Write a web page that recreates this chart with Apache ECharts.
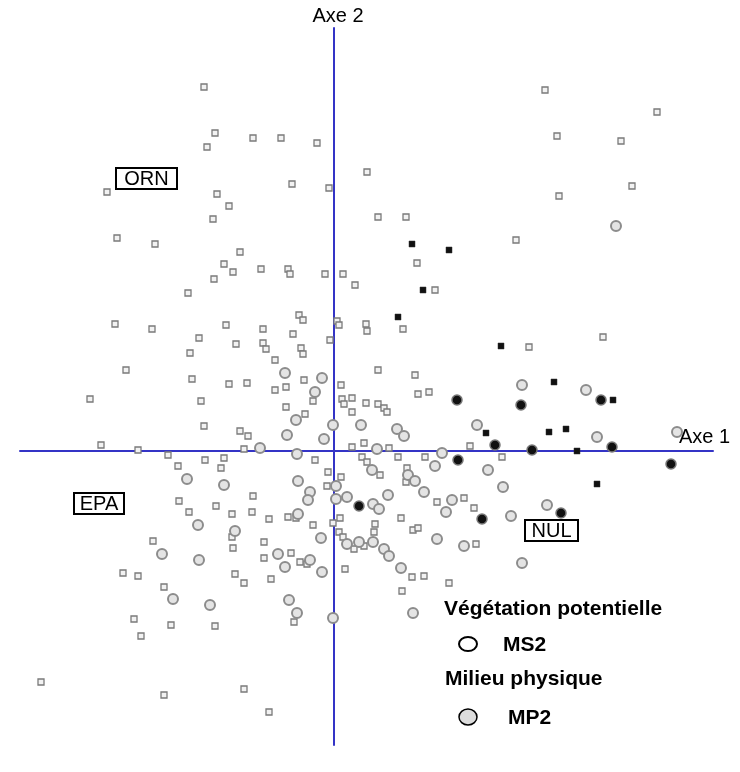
<!DOCTYPE html>
<html><head><meta charset="utf-8">
<script src="https://cdn.jsdelivr.net/npm/echarts@6/dist/echarts.min.js"></script>
<style>html,body{margin:0;padding:0;background:#fff}#c{width:740px;height:772px}</style>
</head><body><div id="c"></div>
<script>
// Factor scores (Axe 1, Axe 2), arbitrary units (x0.01)
const axis1Range = [-314, 379];
const axis2Range = [-294, 423];
// Open grey squares: individuals
const greySquares = [
[-130,364],[211,361],[323,339],[-119,318],[-127,304],[-81,313],[-53,313],[-17,308],[223,315],[287,310],
[-227,259],[-42,267],[-5,263],[33,279],[298,265],[-117,257],[-105,245],[-121,232],[44,234],[72,234],
[225,255],[-217,213],[-179,207],[182,211],[-94,199],[83,188],[-110,187],[-101,179],[-120,172],[-73,182],
[-46,182],[-44,177],[-9,177],[9,177],[-146,158],[-219,127],[-182,122],[-108,126],[-135,113],[-98,107],
[-144,98],[-208,81],[-142,72],[-105,67],[-87,68],[-244,52],[-133,50],[-130,25],[-94,20],[-86,15],
[-233,6],[-196,1],[-166,-4],[-90,2],[-129,-9],[-110,-7],[-156,-15],[-113,-17],[21,166],[101,161],
[-35,136],[-31,131],[3,130],[5,126],[32,127],[33,120],[69,122],[-71,122],[-41,117],[-4,111],
[-71,108],[-68,102],[-33,103],[-31,97],[-59,91],[44,81],[81,76],[-30,71],[7,66],[-59,61],
[-48,64],[-21,50],[84,57],[95,59],[8,52],[18,53],[32,48],[10,47],[44,47],[50,43],
[53,39],[-48,44],[-29,37],[18,39],[18,4],[30,8],[55,3],[136,5],[-19,-9],[28,-6],
[64,-6],[91,-6],[33,-11],[73,-17],[-6,-21],[269,114],[195,104],[168,-6],[-155,-50],[-118,-55],
[-145,-61],[-102,-63],[-102,-86],[-181,-90],[-101,-97],[-211,-122],[-196,-125],[-99,-123],[-90,-132],[-170,-136],
[-200,-168],[-163,-174],[-119,-175],[-193,-185],[7,-26],[46,-24],[72,-31],[-81,-45],[-7,-35],[103,-51],
[130,-47],[140,-57],[-82,-61],[-65,-68],[-46,-66],[-38,-67],[6,-67],[-1,-72],[67,-67],[41,-73],
[40,-81],[-21,-74],[79,-79],[84,-77],[5,-81],[9,-86],[-70,-91],[20,-98],[30,-95],[142,-93],
[-70,-107],[-43,-102],[-34,-111],[-27,-113],[11,-118],[78,-126],[90,-125],[-63,-128],[115,-132],[68,-140],
[-40,-171],[-293,-231],[-170,-244],[-90,-238],[-65,-261]
];
// Grey circles: MP2 (Milieu physique)
const greyCircles = [
[282,225],[-49,78],[-12,73],[-19,59],[-38,31],[-1,26],[27,26],[63,22],[70,15],[143,26],
[-47,16],[-10,12],[-74,3],[43,2],[-37,-3],[108,-2],[101,-15],[38,-19],[154,-19],[188,66],
[252,61],[263,14],[343,19],[-147,-28],[-110,-34],[-136,-74],[-99,-80],[-172,-103],[-135,-109],[-161,-148],
[-124,-154],[-36,-30],[74,-24],[81,-30],[90,-41],[-24,-41],[-26,-49],[2,-35],[2,-48],[13,-46],
[54,-44],[39,-53],[45,-58],[118,-49],[112,-61],[-36,-63],[-13,-87],[103,-88],[13,-93],[25,-91],
[39,-91],[50,-98],[55,-105],[130,-95],[-56,-103],[-49,-116],[-24,-109],[-12,-121],[67,-117],[-45,-149],
[-37,-162],[-1,-167],[79,-162],[169,-36],[213,-54],[177,-65],[188,-112]
];
// Black squares
const blackSquares = [
[78,207],[115,201],[89,161],[64,134],[167,105],[220,69],[279,51],[152,18],[215,19],[232,22],[243,0],[263,-33]
];
// Black circles: MS2 (Végétation potentielle)
const blackCircles = [
[123,51],[267,51],[187,46],[161,6],[124,-9],[198,1],[278,4],[337,-13],[25,-55],[148,-68],[227,-62]
];
const boxLabels = ['ORN','EPA','NUL'];
const axisNames = ['Axe 1','Axe 2'];
const legendTitles = ['Végétation potentielle','Milieu physique'];
const legendItems = ['MS2','MP2'];

const FONT = '"Liberation Sans", Arial, Helvetica, sans-serif';
const chart = echarts.init(document.getElementById('c'), null, {renderer:'canvas'});
const axisCommon = {
  type:'value', axisLine:{show:true,onZero:true,lineStyle:{color:'#3434c6',width:2}},
  axisTick:{show:false}, axisLabel:{show:false}, splitLine:{show:false}
};
function txt(text,x,y,size,weight,align){
  return {type:'text',x:x,y:y,z:100,style:{text:text,fontSize:size,fontWeight:weight||'normal',fontFamily:FONT,fill:'#000',
    align:align||'center',verticalAlign:'middle',textAlign:align||'center',textVerticalAlign:'middle'}};
}
function box(text,x,y,w,h){
  return [{type:'rect',z:99,shape:{x:x,y:y,width:w,height:h},style:{fill:'#fff',stroke:'#000',lineWidth:2}},
          txt(text,x+w/2,y+h/2+1,20)];
}
chart.setOption({
  animation:false,
  backgroundColor:'#fff',
  grid:{left:20,right:27,top:28,bottom:27},
  xAxis:Object.assign({min:axis1Range[0],max:axis1Range[1]},axisCommon),
  yAxis:Object.assign({min:axis2Range[0],max:axis2Range[1]},axisCommon),
  series:[
    {type:'scatter',data:greySquares,symbol:'rect',symbolSize:6,z:2,
      itemStyle:{color:'#f2f2f2',borderColor:'#7a7a7a',borderWidth:1.3,opacity:1}},
    {type:'scatter',data:greyCircles,symbol:'circle',symbolSize:10,z:3,
      itemStyle:{color:'#e4e4e4',borderColor:'#8c8c8c',borderWidth:2,opacity:1}},
    {type:'scatter',data:blackSquares,symbol:'rect',symbolSize:6,z:4,
      itemStyle:{color:'#111',borderColor:'#333',borderWidth:0.5,opacity:1}},
    {type:'scatter',data:blackCircles,symbol:'circle',symbolSize:10,z:4,
      itemStyle:{color:'#111',borderColor:'#777',borderWidth:1.5,opacity:1}}
  ],
  graphic:[].concat(
    [txt(axisNames[1],338,16,20), txt(axisNames[0],679,437,20,'normal','left')],
    box(boxLabels[0],116,168,61,21),
    box(boxLabels[1],74,493,50,21),
    box(boxLabels[2],525,520,53,21),
    [txt(legendTitles[0],444,609,21,'bold','left'),
     {type:'ellipse',z:100,shape:{cx:468,cy:644,rx:9,ry:7},style:{fill:'#fff',stroke:'#000',lineWidth:2}},
     txt(legendItems[0],503,645,21,'bold','left'),
     txt(legendTitles[1],445,679,21,'bold','left'),
     {type:'ellipse',z:100,shape:{cx:468,cy:717,rx:9,ry:8},style:{fill:'#dcdcdc',stroke:'#000',lineWidth:1.5}},
     txt(legendItems[1],508,718,21,'bold','left')]
  )
});
</script></body></html>
